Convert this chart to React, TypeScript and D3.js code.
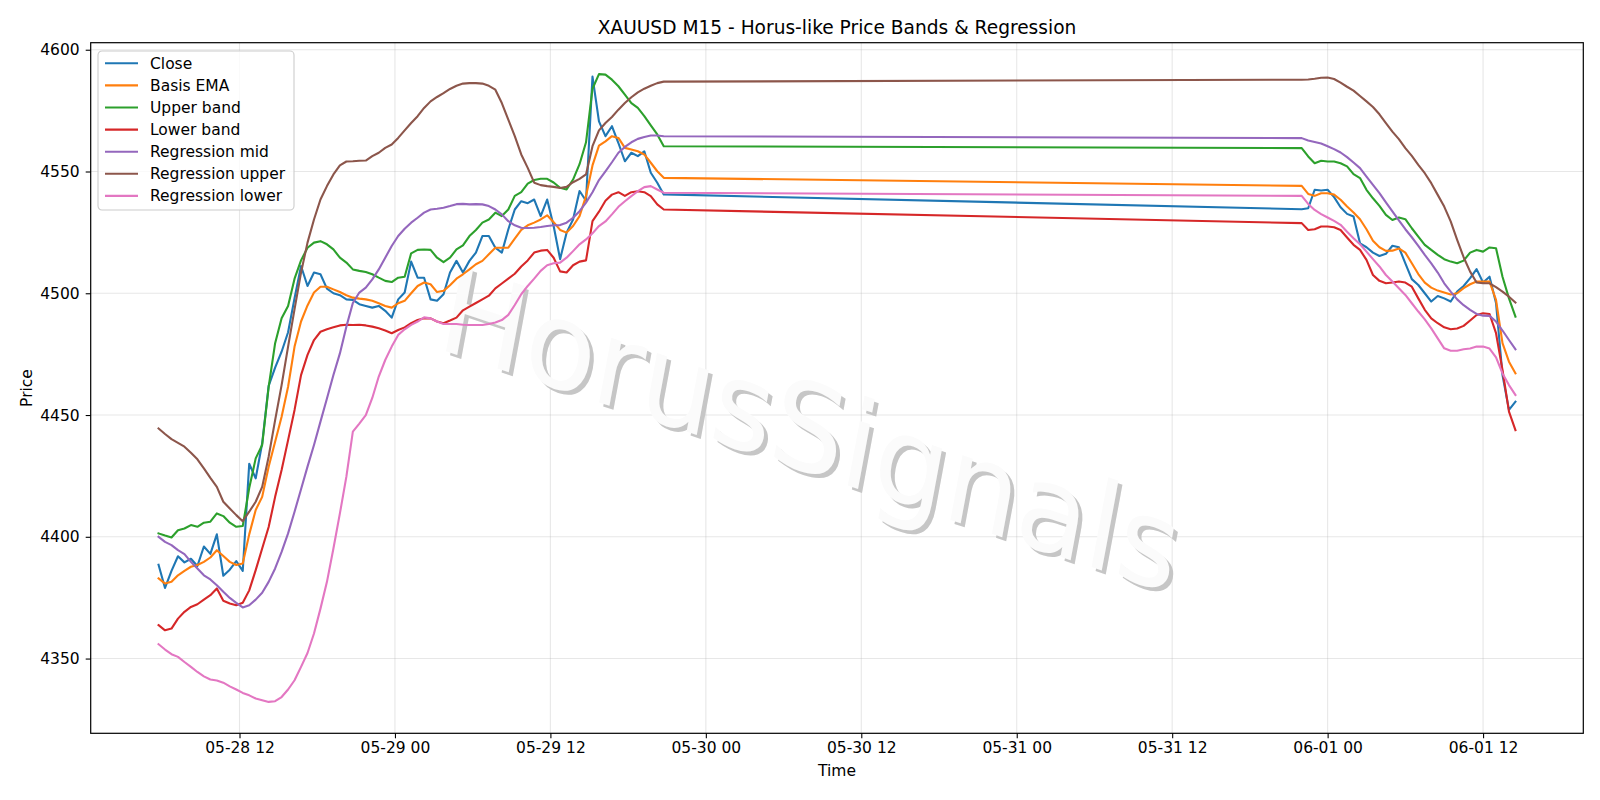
import React, { useRef, useEffect } from 'react';
import * as d3 from 'd3';

// M15 chart, values read every 30 minutes. Session 1 runs Thu 05-28 05:45 -> Fri 05-29 20:45,
// then the weekend gap, session 2 runs Sun 05-31 22:00 -> Mon 06-01 14:30.
const session1Start = Date.UTC(2026, 4, 28, 5, 45);
const session2Start = Date.UTC(2026, 4, 31, 22, 0);
const stepMinutes = 30;
const session1Length = 79;

const seriesNames = ['Close', 'Basis EMA', 'Upper band', 'Lower band', 'Regression mid', 'Regression upper', 'Regression lower'];
const seriesColors = ['#1f77b4', '#ff7f0e', '#2ca02c', '#d62728', '#9467bd', '#8c564b', '#e377c2'];

const close = [
  4388.5, 4379.0, 4386.0, 4392.0, 4389.5, 4391.0, 4388.0, 4396.0, 4393.0, 4401.0,
  4384.0, 4386.5, 4390.0, 4386.0, 4430.0, 4424.0, 4438.4, 4462.0, 4469.5, 4476.0,
  4484.0, 4498.0, 4511.2, 4503.0, 4508.5, 4507.8, 4501.9, 4500.0, 4499.2, 4497.5,
  4497.3, 4495.5, 4494.8, 4494.1, 4494.8, 4492.8, 4490.0, 4497.5, 4500.3, 4513.0,
  4506.4, 4506.4, 4497.5, 4496.9, 4499.6, 4508.5, 4513.3, 4508.5, 4513.3, 4516.7,
  4523.5, 4523.5, 4518.7, 4516.7, 4526.2, 4534.4, 4537.8, 4537.0, 4538.5, 4531.7,
  4538.5, 4527.6, 4514.0, 4524.9, 4530.3, 4542.0, 4538.0, 4589.0, 4570.6, 4564.5,
  4568.6, 4561.7, 4554.2, 4557.7, 4556.3, 4558.3, 4549.5, 4545.4, 4540.6,
  // session 2
  4534.5, 4534.9, 4542.5, 4542.2, 4542.5, 4539.5, 4535.3, 4532.6, 4531.5, 4520.5,
  4518.9, 4516.7, 4515.3, 4516.2, 4519.5, 4518.9, 4512.3, 4505.8, 4503.4, 4500.0,
  4496.6, 4498.9, 4497.9, 4496.6, 4500.7, 4503.0, 4506.2, 4509.9, 4504.4, 4506.8,
  4496.0, 4466.4, 4452.1, 4455.5,
];

const basisEma = [
  4382.9, 4380.8, 4381.5, 4384.2, 4386.0, 4387.7, 4388.4, 4389.7, 4391.5, 4394.5,
  4392.1, 4389.7, 4388.4, 4389.0, 4401.0, 4411.0, 4416.4, 4428.8, 4439.0, 4449.3,
  4461.6, 4478.1, 4488.4, 4495.0, 4500.3, 4502.7, 4502.7, 4501.6, 4500.5, 4499.2,
  4498.2, 4497.8, 4497.5, 4496.9, 4495.9, 4494.8, 4494.1, 4495.9, 4496.9, 4500.0,
  4503.0, 4504.4, 4503.7, 4500.5, 4501.0, 4503.3, 4506.0, 4507.8, 4509.8, 4511.9,
  4513.3, 4516.0, 4518.7, 4518.7, 4518.7, 4522.4, 4526.0, 4527.9, 4529.0, 4530.3,
  4532.0, 4529.2, 4526.0, 4524.9, 4527.6, 4531.7, 4539.9, 4552.5, 4560.6, 4562.4,
  4564.5, 4563.8, 4559.7, 4559.0, 4558.3, 4557.0, 4553.6, 4550.1, 4547.4,
  // session 2
  4544.1, 4540.8, 4540.0, 4541.1, 4541.1, 4540.5, 4538.4, 4535.6, 4533.2, 4530.4,
  4526.3, 4521.6, 4518.9, 4517.4, 4517.5, 4518.4, 4516.7, 4512.3, 4507.9, 4504.4,
  4502.3, 4501.1, 4500.3, 4499.5, 4500.0, 4502.1, 4503.7, 4504.8, 4504.8, 4504.8,
  4497.3, 4479.5, 4471.9, 4467.1,
];

const upperBand = [
  4401.4, 4400.5, 4399.7, 4402.7, 4403.4, 4404.8, 4404.1, 4405.8, 4406.2, 4409.6,
  4408.5, 4405.8, 4404.1, 4404.4, 4420.0, 4432.2, 4437.7, 4461.6, 4479.5, 4489.7,
  4494.8, 4506.0, 4513.5, 4518.7, 4520.8, 4521.4, 4520.1, 4518.0, 4514.6, 4512.6,
  4509.8, 4509.2, 4508.7, 4507.8, 4506.4, 4505.1, 4504.6, 4506.4, 4506.8, 4516.4,
  4517.8, 4518.0, 4517.8, 4514.6, 4512.8, 4514.6, 4518.0, 4519.7, 4523.5, 4526.0,
  4529.0, 4530.3, 4533.1, 4531.7, 4534.4, 4540.0, 4541.5, 4545.0, 4546.5, 4547.0,
  4547.0, 4545.5, 4543.3, 4542.6, 4546.7, 4553.0, 4562.0, 4584.0, 4590.0, 4589.8,
  4587.7, 4585.0, 4581.6, 4578.1, 4576.1, 4572.7, 4568.9, 4565.2, 4560.4,
  // session 2
  4559.6, 4556.2, 4553.4, 4554.4, 4554.1, 4554.1, 4553.4, 4552.1, 4548.9, 4547.3,
  4542.5, 4539.0, 4535.9, 4532.2, 4530.1, 4531.1, 4530.4, 4526.7, 4523.3, 4519.9,
  4517.8, 4515.8, 4514.0, 4513.0, 4512.3, 4513.4, 4516.7, 4517.8, 4517.1, 4518.8,
  4518.5, 4506.8, 4497.9, 4490.4,
];

const lowerBand = [
  4363.7, 4361.6, 4362.3, 4366.4, 4369.2, 4371.2, 4372.3, 4374.2, 4376.0, 4378.8,
  4373.7, 4372.6, 4371.9, 4372.9, 4378.0, 4386.3, 4395.2, 4404.0, 4416.4, 4427.4,
  4439.7, 4452.1, 4466.4, 4474.7, 4480.8, 4484.2, 4485.2, 4486.0, 4486.8, 4487.1,
  4487.0, 4487.1, 4486.8, 4486.3, 4485.6, 4484.7, 4483.6, 4484.9, 4486.0, 4487.7,
  4489.0, 4489.7, 4489.7, 4488.4, 4487.7, 4488.8, 4490.0, 4493.0, 4494.5, 4496.0,
  4497.5, 4499.0, 4502.0, 4504.0, 4506.0, 4508.0, 4511.0, 4513.5, 4516.7, 4517.5,
  4517.8, 4514.6, 4509.0, 4508.5, 4511.5, 4513.0, 4513.5, 4529.6, 4533.5, 4538.0,
  4540.5, 4541.5, 4540.0, 4541.5, 4541.9, 4541.5, 4539.9, 4536.5, 4534.4,
  // session 2
  4528.8, 4526.0, 4526.3, 4527.4, 4527.4, 4527.1, 4526.0, 4522.9, 4519.9, 4517.8,
  4513.7, 4507.5, 4505.1, 4504.1, 4504.4, 4504.8, 4504.4, 4502.7, 4497.9, 4493.2,
  4489.7, 4487.7, 4486.0, 4485.2, 4485.5, 4486.6, 4488.8, 4491.1, 4491.8, 4491.5,
  4483.6, 4468.5, 4451.4, 4443.8,
];

const regressionMid = [
  4400.0, 4397.9, 4396.6, 4394.5, 4392.9, 4389.7, 4387.0, 4384.2, 4382.5, 4380.1,
  4377.4, 4374.9, 4372.9, 4371.0, 4371.9, 4374.2, 4377.0, 4381.5, 4387.0, 4393.8,
  4401.4, 4410.3, 4419.5, 4428.8, 4437.7, 4447.3, 4456.8, 4466.4, 4475.3, 4486.3,
  4496.0, 4500.3, 4502.3, 4505.7, 4509.8, 4514.6, 4519.4, 4523.5, 4526.5, 4529.0,
  4531.0, 4533.1, 4534.4, 4534.7, 4535.1, 4535.8, 4536.6, 4536.7, 4536.5, 4536.6,
  4536.5, 4535.8, 4534.4, 4532.4, 4529.6, 4527.9, 4526.9, 4526.8, 4526.9, 4527.2,
  4527.6, 4527.9, 4528.0, 4529.0, 4531.0, 4533.7, 4537.2, 4541.5, 4546.5, 4550.1,
  4553.8, 4557.7, 4560.1, 4562.0, 4563.4, 4564.2, 4564.8, 4564.8, 4564.5,
  // session 2
  4563.7, 4562.7, 4562.1, 4561.5, 4560.4, 4559.2, 4557.8, 4555.9, 4553.7, 4551.4,
  4547.9, 4544.5, 4541.1, 4537.3, 4533.6, 4529.9, 4526.3, 4523.0, 4519.5, 4515.8,
  4512.3, 4508.5, 4504.1, 4500.7, 4497.5, 4495.1, 4493.2, 4491.5, 4490.8, 4490.7,
  4488.4, 4484.7, 4480.8, 4477.0,
];

const regressionUpper = [
  4444.5, 4442.2, 4440.1, 4438.6, 4437.0, 4434.5, 4431.8, 4428.1, 4424.2, 4420.5,
  4414.4, 4411.6, 4408.9, 4406.4, 4410.3, 4414.4, 4420.5, 4432.9, 4447.9, 4462.3,
  4478.1, 4493.5, 4508.5, 4520.8, 4530.3, 4538.5, 4544.0, 4548.8, 4552.5, 4554.1,
  4554.2, 4554.4, 4554.5, 4556.3, 4557.7, 4559.7, 4561.1, 4563.8, 4566.9, 4569.9,
  4572.7, 4576.1, 4578.8, 4580.6, 4582.2, 4583.9, 4585.2, 4586.1, 4586.3, 4586.3,
  4586.1, 4585.2, 4583.6, 4578.1, 4571.3, 4564.5, 4557.0, 4551.5, 4545.4, 4544.4,
  4544.0, 4543.7, 4543.2, 4543.7, 4545.6, 4547.0, 4548.8, 4560.4, 4566.9, 4569.9,
  4572.4, 4575.4, 4578.1, 4580.5, 4582.5, 4584.0, 4585.2, 4586.3, 4586.9,
  // session 2
  4587.7, 4587.8, 4588.1, 4588.5, 4588.6, 4588.0, 4586.5, 4584.8, 4583.2, 4581.0,
  4578.8, 4576.5, 4573.5, 4569.9, 4566.4, 4563.3, 4559.6, 4556.4, 4552.7, 4549.3,
  4545.2, 4540.4, 4535.6, 4529.5, 4521.9, 4514.8, 4508.9, 4504.4, 4504.1, 4504.1,
  4502.5, 4500.7, 4498.6, 4496.2,
];

const regressionLower = [
  4355.9, 4353.7, 4351.8, 4350.7, 4348.6, 4346.6, 4344.5, 4342.7, 4341.4, 4341.0,
  4340.1, 4338.6, 4337.3, 4335.9, 4334.9, 4333.6, 4332.9, 4332.2, 4332.5, 4334.2,
  4337.3, 4341.1, 4346.6, 4352.3, 4360.3, 4370.5, 4381.5, 4395.2, 4409.6, 4424.7,
  4443.2, 4446.5, 4450.0, 4457.0, 4465.8, 4472.6, 4478.1, 4482.9, 4485.2, 4487.0,
  4488.4, 4490.1, 4489.7, 4488.4, 4487.4, 4487.4, 4487.4, 4487.1, 4487.0, 4487.0,
  4487.0, 4487.4, 4488.0, 4489.0, 4491.1, 4495.2, 4499.6, 4503.0, 4506.0, 4509.2,
  4511.5, 4512.3, 4512.6, 4514.6, 4517.3, 4520.1, 4522.1, 4524.6, 4527.6, 4529.5,
  4532.4, 4535.5, 4537.8, 4539.9, 4541.9, 4543.6, 4544.0, 4542.6, 4541.3,
  // session 2
  4540.0, 4536.7, 4534.2, 4532.5, 4531.1, 4529.7, 4528.1, 4525.3, 4522.6, 4520.1,
  4517.1, 4514.0, 4511.0, 4507.5, 4504.8, 4502.1, 4499.3, 4495.9, 4492.5, 4489.3,
  4485.6, 4481.5, 4477.4, 4476.4, 4476.4, 4477.0, 4477.3, 4478.1, 4478.1, 4477.3,
  4473.7, 4467.1, 4462.3, 4458.2,
];

const allSeries = [close, basisEma, upperBand, lowerBand, regressionMid, regressionUpper, regressionLower];

const timeAt = (i: number) =>
  i < session1Length
    ? new Date(session1Start + i * stepMinutes * 60000)
    : new Date(session2Start + (i - session1Length) * stepMinutes * 60000);

const FONT = '"DejaVu Sans", Verdana, sans-serif';

const App = () => {
  const chartRef = useRef<SVGSVGElement>(null);

  useEffect(() => {
    const width = 1600;
    const height = 800;
    const margin = { top: 42.7, right: 16.7, bottom: 66.7, left: 90.7 };

    const svg = d3.select(chartRef.current);
    svg.selectAll('*').remove();
    svg.attr('width', width).attr('height', height);

    const times = close.map((_, i) => timeAt(i));

    //matplotlib style 5% margins around the data
    const [t0, t1] = d3.extent(times) as [Date, Date];
    const tPad = (+t1 - +t0) * 0.05;
    const vMin = d3.min(allSeries, s => d3.min(s)) as number;
    const vMax = d3.max(allSeries, s => d3.max(s)) as number;
    const vPad = (vMax - vMin) * 0.05;

    const x = d3.scaleUtc()
      .domain([new Date(+t0 - tPad), new Date(+t1 + tPad)])
      .range([margin.left, width - margin.right]);

    const y = d3.scaleLinear()
      .domain([vMin - vPad, vMax + vPad])
      .range([height - margin.bottom, margin.top]);

    const xTicks = d3.utcHour.every(12)!.range(new Date(Date.UTC(2026, 4, 28, 12)), new Date(+t1 + tPad));
    const yTicks = y.ticks(6);

    //grid
    const grid = svg.append('g').attr('stroke', '#b0b0b0').attr('stroke-opacity', 0.3).attr('stroke-width', 1.1);
    grid.selectAll('line.gx')
      .data(xTicks)
      .join('line')
      .attr('x1', d => x(d)).attr('x2', d => x(d))
      .attr('y1', margin.top).attr('y2', height - margin.bottom);
    grid.selectAll('line.gy')
      .data(yTicks)
      .join('line')
      .attr('class', 'gy')
      .attr('x1', margin.left).attr('x2', width - margin.right)
      .attr('y1', d => y(d)).attr('y2', d => y(d));

    //watermark (white face over a grey drop shadow)
    const wmX = 811;
    const wmY = 428;
    const wmTransform = 'rotate(18.5) skewX(8)';
    const wm = svg.append('g').style('font-family', FONT).style('font-size', '119px');
    wm.append('text')
      .attr('transform', `translate(${wmX + 4},${wmY + 4}) ${wmTransform}`)
      .attr('text-anchor', 'middle')
      .attr('dy', '0.36em')
      .attr('fill', '#c6c6c6')
      .text('HorusSignals');
    wm.append('text')
      .attr('transform', `translate(${wmX},${wmY}) ${wmTransform}`)
      .attr('text-anchor', 'middle')
      .attr('dy', '0.36em')
      .attr('fill', '#fbfbfb')
      .text('HorusSignals');

    //lines
    const line = d3.line<number>()
      .x((_, i) => x(times[i]))
      .y(d => y(d));

    svg.append('g')
      .selectAll('path')
      .data(allSeries)
      .join('path')
      .attr('d', d => line(d))
      .attr('fill', 'none')
      .attr('stroke', (_, i) => seriesColors[i])
      .attr('stroke-width', 2.1)
      .attr('stroke-linejoin', 'round')
      .attr('stroke-linecap', 'square');

    //frame
    svg.append('rect')
      .attr('x', margin.left).attr('y', margin.top)
      .attr('width', width - margin.left - margin.right)
      .attr('height', height - margin.top - margin.bottom)
      .attr('fill', 'none')
      .attr('stroke', '#000')
      .attr('stroke-width', 1.2);

    //x axis
    const xAxis = svg.append('g')
      .attr('transform', `translate(0,${height - margin.bottom})`)
      .call(d3.axisBottom(x).tickValues(xTicks).tickFormat(d3.utcFormat('%m-%d %H') as any).tickSize(5).tickPadding(4));
    xAxis.select('.domain').remove();
    xAxis.selectAll('line').attr('stroke', '#000').attr('stroke-width', 1.1);
    xAxis.selectAll('text').style('font-family', FONT).style('font-size', '15.5px').attr('fill', '#000');

    //y axis
    const yAxis = svg.append('g')
      .attr('transform', `translate(${margin.left},0)`)
      .call(d3.axisLeft(y).tickValues(yTicks).tickFormat(d3.format('d')).tickSize(5).tickPadding(6));
    yAxis.select('.domain').remove();
    yAxis.selectAll('line').attr('stroke', '#000').attr('stroke-width', 1.1);
    yAxis.selectAll('text').style('font-family', FONT).style('font-size', '15.5px').attr('fill', '#000');

    //labels
    svg.append('text')
      .attr('x', (margin.left + width - margin.right) / 2)
      .attr('y', 33.5)
      .attr('text-anchor', 'middle')
      .style('font-family', FONT)
      .style('font-size', '18.6px')
      .text('XAUUSD M15 - Horus-like Price Bands & Regression');

    svg.append('text')
      .attr('x', (margin.left + width - margin.right) / 2)
      .attr('y', 776)
      .attr('text-anchor', 'middle')
      .style('font-family', FONT)
      .style('font-size', '15.5px')
      .text('Time');

    svg.append('text')
      .attr('transform', `translate(32,${(margin.top + height - margin.bottom) / 2}) rotate(-90)`)
      .attr('text-anchor', 'middle')
      .style('font-family', FONT)
      .style('font-size', '15.5px')
      .text('Price');

    //legend
    const legend = svg.append('g').attr('transform', 'translate(98,51)');
    legend.append('rect')
      .attr('width', 196).attr('height', 159)
      .attr('rx', 4)
      .attr('fill', '#fff').attr('fill-opacity', 0.8)
      .attr('stroke', '#cccccc').attr('stroke-width', 1.1);
    const items = legend.selectAll('g.item')
      .data(seriesNames)
      .join('g')
      .attr('transform', (_, i) => `translate(0,${12.3 + i * 22.1})`);
    items.append('line')
      .attr('x1', 7).attr('x2', 40)
      .attr('stroke', (_, i) => seriesColors[i])
      .attr('stroke-width', 2.1);
    items.append('text')
      .attr('x', 52)
      .attr('dy', '0.36em')
      .style('font-family', FONT)
      .style('font-size', '15.5px')
      .text(d => d);
  }, []);

  return <svg ref={chartRef} style={{ position: 'absolute', left: 0, top: 0 }}></svg>;
};

export default App;
